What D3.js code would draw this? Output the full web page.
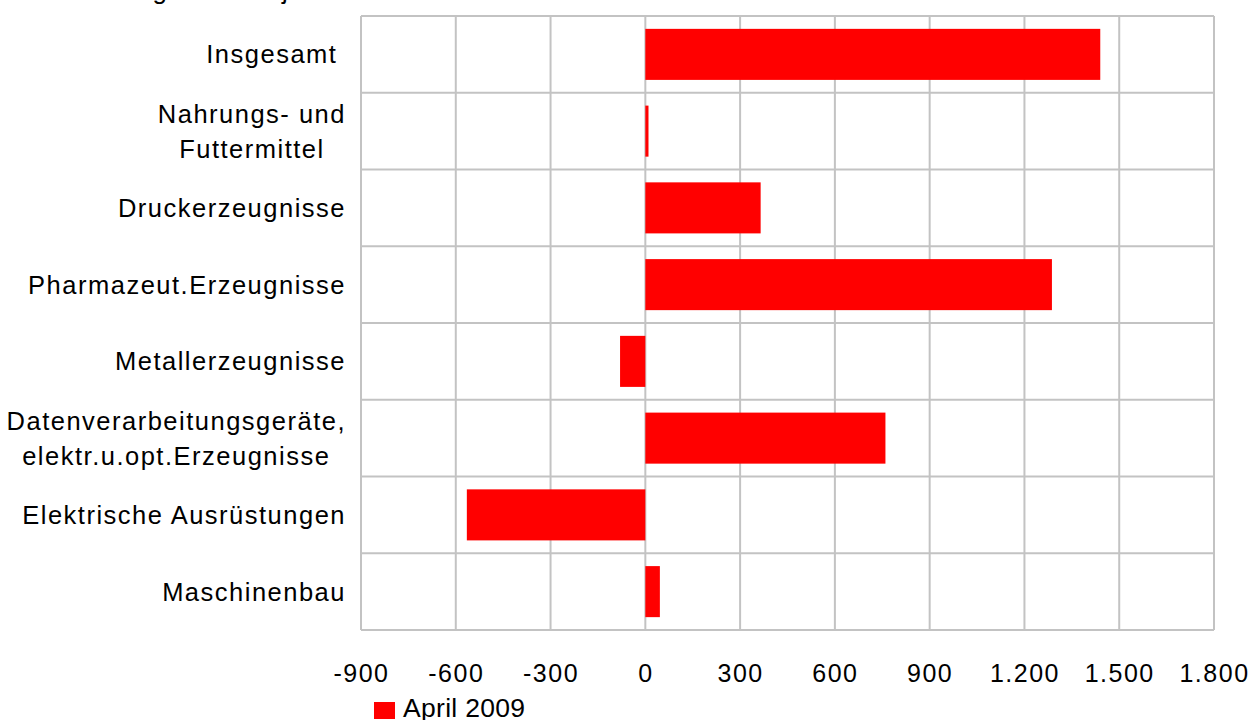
<!DOCTYPE html>
<html>
<head>
<meta charset="utf-8">
<script src="https://cdn.jsdelivr.net/npm/d3@7"></script>
<style>
  html, body { margin: 0; padding: 0; background: #fff; }
  svg { display: block; }
  text { font-family: "Liberation Sans", Arial, sans-serif; fill: #000; }
</style>
</head>
<body>
<svg id="chart" width="1251" height="720"></svg>
<script>
// Categories (top to bottom); multi-line labels split on "\n"
const categories = [
  "Insgesamt ",
  "Nahrungs- und\nFuttermittel",
  "Druckerzeugnisse",
  "Pharmazeut.Erzeugnisse",
  "Metallerzeugnisse",
  "Datenverarbeitungsgeräte,\nelektr.u.opt.Erzeugnisse",
  "Elektrische Ausrüstungen",
  "Maschinenbau"
];
// Change vs. previous year, April 2009
const values = [1440, 10, 365, 1287, -80, 760, -565, 46];
const tickValues = [-900, -600, -300, 0, 300, 600, 900, 1200, 1500, 1800];
const seriesName = "April 2009";
const titleText = "Veränderung zum Vorjahr in Mio. EUR";

const svg = d3.select("#chart");
const plot = { left: 361, right: 1214, top: 16, bottom: 630 };
const gridColor = "#c3c3c3";
const barColor = "#ff0000";
const fontSize = 25.5;
const spacing = 1.5;

const x = d3.scaleLinear().domain([-900, 1800]).range([plot.left, plot.right]);
const y = d3.scaleBand().domain(categories).range([plot.top, plot.bottom])
  .paddingInner(0.335).paddingOuter(0.1675);

// Title (sits above the visible area)
svg.append("text")
  .attr("x", 4).attr("y", -1)
  .style("font-size", "26px").style("letter-spacing", "1.4px")
  .text(titleText);

// Vertical gridlines at every tick
svg.append("g").selectAll("line").data(tickValues).join("line")
  .attr("x1", d => x(d)).attr("x2", d => x(d))
  .attr("y1", plot.top).attr("y2", plot.bottom)
  .attr("stroke", gridColor).attr("stroke-width", 2);

// Horizontal separators between categories
const seps = categories.map(c => y(c) - y.step() * y.paddingOuter());
seps.push(plot.bottom);
svg.append("g").selectAll("line").data(seps).join("line")
  .attr("x1", plot.left).attr("x2", plot.right)
  .attr("y1", d => d).attr("y2", d => d)
  .attr("stroke", gridColor).attr("stroke-width", 2);

// Bars
svg.append("g").selectAll("rect").data(categories).join("rect")
  .attr("x", (c, i) => x(Math.min(0, values[i])))
  .attr("width", (c, i) => Math.abs(x(values[i]) - x(0)))
  .attr("y", c => y(c))
  .attr("height", y.bandwidth())
  .attr("fill", barColor);

// Category labels: block of lines centred, widest line ending at the right edge
const labelRight = 346;
const lineH = 35;
const labels = svg.append("g");
categories.forEach(c => {
  const lines = c.split("\n");
  const cy = y(c) + y.bandwidth() / 2;
  const t = labels.append("text")
    .style("font-size", fontSize + "px")
    .style("letter-spacing", spacing + "px")
    .style("white-space", "pre")
    .attr("text-anchor", "middle");
  const spans = lines.map((l, i) => t.append("tspan")
    .attr("y", cy + (i - (lines.length - 1) / 2) * lineH + fontSize * 0.35)
    .text(l));
  const maxW = d3.max(spans, s => s.node().getComputedTextLength());
  spans.forEach(s => s.attr("x", labelRight - maxW / 2));
});

// X-axis tick labels
const fmt = d3.formatLocale({ decimal: ",", thousands: ".", grouping: [3], currency: ["", "€"] }).format(",d");
const xAxis = d3.axisBottom(x).tickValues(tickValues).tickFormat(v => fmt(v).replace("−", "-")).tickSize(0).tickPadding(0);
const ax = svg.append("g").attr("transform", `translate(0, ${plot.bottom})`).call(xAxis);
ax.select(".domain").remove();
ax.selectAll("text")
  .attr("y", 0).attr("dy", 0)
  .attr("transform", "translate(0, 52)")
  .style("font-size", "25px")
  .style("letter-spacing", spacing + "px")
  .style("font-family", '"Liberation Sans", Arial, sans-serif')
  .attr("fill", "#000");

// Legend
const leg = svg.append("g").attr("transform", "translate(374, 702)");
leg.append("rect").attr("width", 21).attr("height", 17).attr("fill", barColor);
leg.append("text").attr("x", 29).attr("y", 15)
  .style("font-size", "26.5px").style("letter-spacing", "0.3px")
  .text(seriesName);
</script>
</body>
</html>
